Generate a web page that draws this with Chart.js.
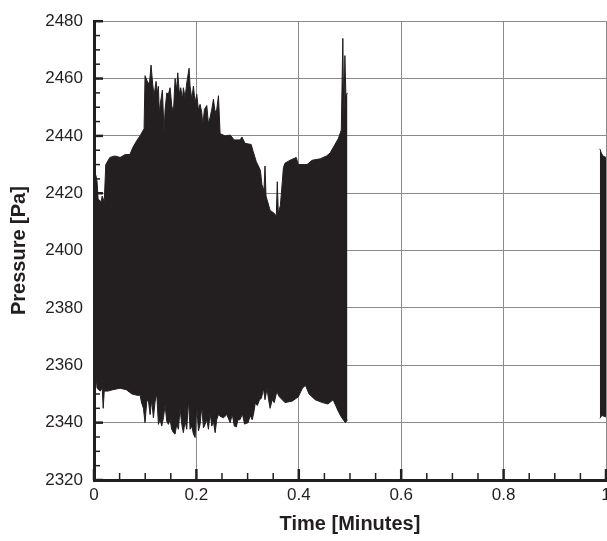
<!DOCTYPE html>
<html>
<head>
<meta charset="utf-8">
<title>Pressure vs Time</title>
<script src="https://cdn.jsdelivr.net/npm/chart.js@4/dist/chart.umd.min.js"></script>
<style>
  html, body { margin: 0; padding: 0; background: #fff; overflow: hidden; }
  #wrap { width: 607px; height: 541px; }
</style>
</head>
<body>
<div id="wrap"><canvas id="myChart" width="607" height="541"></canvas></div>
<script>
'use strict';
//--------------------DATA

// tick labels
let xTicks = [0, 0.2, 0.4, 0.6, 0.8, 1];
let yTicks = [2320, 2340, 2360, 2380, 2400, 2420, 2440, 2460, 2480];

// first burst: upper envelope of the signal (time in minutes)
let upperTime = [
  0, 0.004, 0.006, 0.008, 0.014, 0.016, 0.02, 0.023, 0.031, 0.041, 0.051, 0.061, 0.07, 0.076, 0.084,
  0.0899, 0.0978, 0.0997, 0.103, 0.1043, 0.1082, 0.1114, 0.1147, 0.1173, 0.1212,
  0.1238, 0.1258, 0.1277, 0.129, 0.1336, 0.1369, 0.1388, 0.1421, 0.1453, 0.1486,
  0.1518, 0.1551, 0.1584, 0.1616, 0.1636, 0.1668, 0.1694, 0.1727, 0.1746, 0.1779,
  0.1812, 0.1857, 0.1877, 0.191, 0.1942, 0.1975, 0.2007, 0.204, 0.2072, 0.2105,
  0.2125, 0.2157, 0.2203, 0.2235, 0.2268, 0.2301, 0.2333, 0.2366, 0.2398, 0.2431,
  0.2463, 0.2561,
  0.266, 0.274, 0.285, 0.289, 0.295, 0.307, 0.311, 0.317, 0.325, 0.328,
  0.332, 0.334, 0.336, 0.344, 0.352, 0.356, 0.358, 0.36, 0.364, 0.37,
  0.373, 0.383, 0.395, 0.399, 0.416, 0.426, 0.442, 0.454, 0.461, 0.469,
  0.477, 0.483, 0.486, 0.488, 0.49, 0.492, 0.495];
let upperPressure = [
  2428, 2426, 2424, 2418, 2417, 2419, 2417, 2430, 2432.5, 2433, 2432.5, 2433.5, 2433.5, 2436, 2438.5,
  2440, 2442.5, 2461, 2459.5, 2459, 2458, 2464.7, 2458, 2454, 2459,
  2455, 2457.3, 2447, 2450.6, 2456, 2441, 2449, 2455, 2454.5, 2456.8,
  2450.6, 2448.2, 2460, 2456, 2462, 2454.5, 2456.8, 2452.8, 2456.8, 2453.3,
  2458.5, 2463.6, 2457.3, 2452.8, 2457.4, 2451.6, 2454.5, 2449, 2451, 2448.2,
  2443.7, 2449.3, 2450.6, 2444.2, 2446.5, 2449.3, 2452.8, 2448.2, 2449.3, 2454,
  2440.8, 2440,
  2440.3, 2438.6, 2438.6, 2439.6, 2437.4, 2437, 2434.5, 2431, 2428, 2423,
  2421, 2429.5, 2419, 2414, 2413, 2412, 2424, 2413, 2415.7, 2429,
  2430.5, 2431.5, 2432.5, 2430, 2430, 2431.5, 2432, 2433, 2434, 2436.5,
  2439, 2442, 2474, 2445, 2468, 2454, 2455];

// first burst: lower envelope
let lowerTime = [
  0, 0.002, 0.004, 0.006, 0.012, 0.016, 0.018, 0.02, 0.027, 0.037, 0.051, 0.063, 0.074, 0.086,
  0.0899, 0.0932, 0.0965, 0.0997, 0.103, 0.1062, 0.1095, 0.1127, 0.116, 0.1193,
  0.1225, 0.1258, 0.129, 0.1323, 0.1356, 0.1388, 0.1421, 0.1453, 0.1486, 0.1518,
  0.1551, 0.1584, 0.1616, 0.1649, 0.1681, 0.1714, 0.1746, 0.1779, 0.1812, 0.1844,
  0.1877, 0.191, 0.1942, 0.1975, 0.2007, 0.204, 0.2072, 0.2105, 0.2138, 0.217,
  0.2203, 0.2235, 0.2268, 0.2301, 0.2333, 0.2366, 0.2398, 0.2431, 0.2463, 0.2529,
  0.2594,
  0.266, 0.27, 0.274, 0.278, 0.281, 0.285, 0.29, 0.294, 0.301, 0.305,
  0.309, 0.312, 0.315, 0.319, 0.323, 0.327, 0.331, 0.334, 0.338, 0.341,
  0.344, 0.348, 0.352, 0.357, 0.362, 0.373, 0.387, 0.399, 0.407, 0.413,
  0.42, 0.432, 0.446, 0.457, 0.467, 0.477, 0.483, 0.491, 0.495];
let lowerPressure = [
  2357, 2350, 2356, 2352, 2351, 2352, 2345, 2351, 2351, 2351.5, 2352, 2351.5, 2350, 2349.5,
  2349.6, 2346.8, 2345, 2340, 2347.3, 2347.9, 2342.8, 2347.9, 2341.7, 2347.3,
  2350.2, 2339.4, 2341.1, 2338.8, 2341.7, 2346.2, 2340.5, 2339.4, 2341.1, 2337.7,
  2336.5, 2336, 2339.4, 2337.7, 2345, 2339.4, 2336.5, 2340.5, 2337.7, 2347.9,
  2337.7, 2338.8, 2336, 2334.8, 2346.2, 2337.1, 2339.4, 2345.6, 2338.2, 2339.4,
  2341.1, 2337.7, 2343.4, 2338.8, 2340.5, 2336.5, 2341.1, 2342.8, 2342.2, 2341.7,
  2342.8,
  2340, 2343, 2338.8, 2338.5, 2341, 2341, 2343, 2339.5, 2340, 2342.5,
  2341, 2343.4, 2346.8, 2346, 2347.9, 2348.5, 2351.9, 2348, 2351.9, 2348,
  2345, 2348, 2347, 2350.8, 2349, 2347, 2347.5, 2349, 2352, 2353,
  2350, 2348, 2347, 2346.5, 2348, 2344, 2342, 2340, 2341];

// second burst at the right edge
let upperTime2 = [0.988, 0.991, 0.994, 1];
let upperPressure2 = [2435.5, 2434, 2433, 2432.5];
let lowerTime2 = [0.988, 0.992, 1];
let lowerPressure2 = [2341.5, 2342.5, 2342];

//--------------------FUNCTIONS

// pair up time and pressure arrays into {x, y} points
function toPoints(times, values) {
  let points = [];
  for (let i = 0; i < times.length; i++) {
    points.push({ x: times[i], y: values[i] });
  }
  return points;
}

function makeTicks(values) {
  return values.map(function (v) { return { value: v }; });
}

const ink = '#231f20';

// inward major and minor tick marks, like the original plot
const innerTicks = {
  id: 'innerTicks',
  afterDatasetsDraw(chart) {
    let ctx = chart.ctx;
    let xs = chart.scales.x;
    let ys = chart.scales.y;
    let area = chart.chartArea;
    ctx.save();
    ctx.strokeStyle = ink;
    // x axis: minor every 0.05
    for (let i = 0; i <= 20; i++) {
      let px = xs.getPixelForValue(i * 0.05);
      let major = i % 4 === 0;
      ctx.lineWidth = major ? 2.5 : 1.5;
      ctx.beginPath();
      ctx.moveTo(px, area.bottom);
      ctx.lineTo(px, area.bottom - (major ? 11 : 7));
      ctx.stroke();
    }
    // y axis: minor every 5 Pa
    for (let v = yTicks[0]; v <= yTicks[yTicks.length - 1]; v += 5) {
      let py = ys.getPixelForValue(v);
      let major = (v - yTicks[0]) % 20 === 0;
      ctx.lineWidth = major ? 2.5 : 1.5;
      ctx.beginPath();
      ctx.moveTo(area.left, py);
      ctx.lineTo(area.left + (major ? 9 : 6), py);
      ctx.stroke();
    }
    ctx.restore();
  }
};

//--------------------CHART

function renderChart() {
  const fillStyle = {
    borderColor: ink,
    backgroundColor: ink,
    borderWidth: 1,
    pointRadius: 0,
    showLine: true,
    tension: 0
  };

  const data = {
    datasets: [
      Object.assign({ label: 'upper', data: toPoints(upperTime, upperPressure), fill: false }, fillStyle),
      Object.assign({ label: 'lower', data: toPoints(lowerTime, lowerPressure), fill: '-1' }, fillStyle),
      Object.assign({ label: 'upper2', data: toPoints(upperTime2, upperPressure2), fill: false }, fillStyle),
      Object.assign({ label: 'lower2', data: toPoints(lowerTime2, lowerPressure2), fill: '-1' }, fillStyle)
    ]
  };

  const config = {
    type: 'scatter',
    data: data,
    plugins: [innerTicks],
    options: {
      responsive: false,
      animation: false,
      events: [],
      layout: { padding: { top: 12, right: 1, left: 0, bottom: 0 } },
      plugins: { legend: { display: false }, tooltip: { enabled: false } },
      scales: {
        x: {
          type: 'linear',
          min: 0,
          max: 1,
          afterBuildTicks: function (scale) { scale.ticks = makeTicks(xTicks); },
          afterFit: function (scale) { scale.height = 61; scale.paddingRight = 0; scale.paddingLeft = 0; },
          grid: { color: '#8a8a8a', lineWidth: 1, drawTicks: false },
          border: { color: ink, width: 3 },
          ticks: {
            color: ink,
            padding: 5,
            maxRotation: 0,
            font: { family: 'Liberation Sans, Arial', size: 17 },
            callback: function (v) { return String(v); }
          },
          title: {
            display: true,
            text: 'Time [Minutes]',
            color: ink,
            font: { family: 'Liberation Sans, Arial', size: 20, weight: 'bold', lineHeight: 1.2 },
            padding: { top: 0, bottom: 5 }
          }
        },
        y: {
          type: 'linear',
          min: 2320,
          max: 2480,
          afterBuildTicks: function (scale) { scale.ticks = makeTicks(yTicks); },
          afterFit: function (scale) { scale.width = 94; },
          grid: { color: '#8a8a8a', lineWidth: 1, drawTicks: false },
          border: { color: ink, width: 3 },
          ticks: {
            color: ink,
            padding: 11,
            font: { family: 'Liberation Sans, Arial', size: 17 },
            callback: function (v) { return String(v); }
          },
          title: {
            display: true,
            text: 'Pressure [Pa]',
            color: ink,
            font: { family: 'Liberation Sans, Arial', size: 20, weight: 'bold', lineHeight: 1.2 },
            padding: { top: 7, bottom: 0 }
          }
        }
      }
    }
  };

  const myChart = new Chart(document.getElementById('myChart'), config);
}

//--------------------FUNCTION CALLS

renderChart();
</script>
</body>
</html>
